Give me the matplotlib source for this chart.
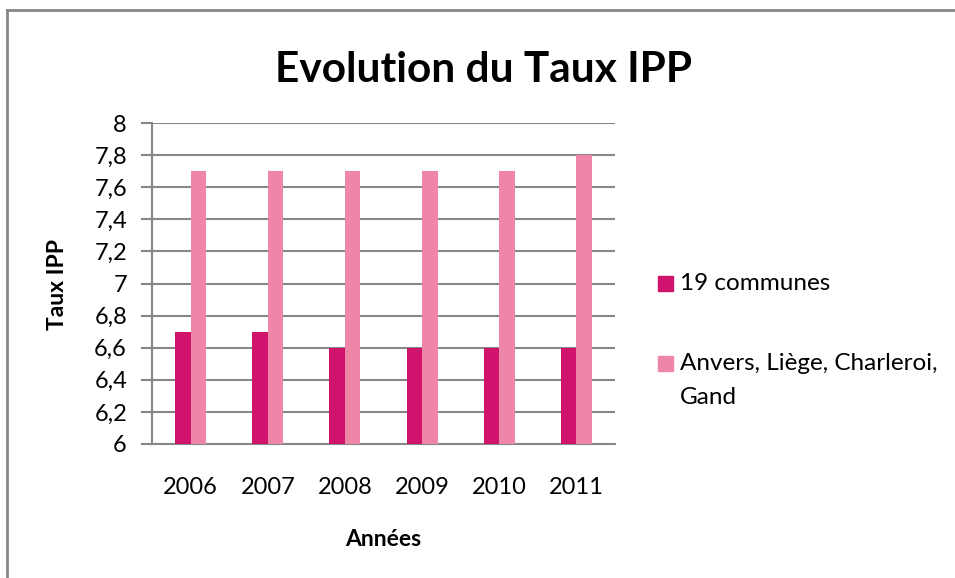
import matplotlib
matplotlib.use("Agg")
import matplotlib.pyplot as plt
import numpy as np
from matplotlib.patches import Rectangle
from matplotlib.lines import Line2D

plt.rcParams['font.family'] = ['Lato', 'DejaVu Sans']

annees = ['2006', '2007', '2008', '2009', '2010', '2011']
communes19 = [6.7, 6.7, 6.6, 6.6, 6.6, 6.6]
grandes_villes = [7.7, 7.7, 7.7, 7.7, 7.7, 7.8]
yticks = [6, 6.2, 6.4, 6.6, 6.8, 7, 7.2, 7.4, 7.6, 7.8, 8]
ytick_labels = ['6', '6,2', '6,4', '6,6', '6,8', '7', '7,2', '7,4', '7,6', '7,8', '8']
noms = ['19 communes', 'Anvers, Liège, Charleroi,\nGand']
couleurs = ['#D0146E', '#EF86A8']

W, H = 955, 578
fig = plt.figure(figsize=(W / 100, H / 100), dpi=100)
ax = fig.add_axes([152 / W, 1 - 444 / H, (615 - 152) / W, (444 - 123) / H])

x = np.arange(len(annees))
ax.bar(x - 0.1, communes19, width=0.2, color=couleurs[0], zorder=3)
ax.bar(x + 0.1, grandes_villes, width=0.2, color=couleurs[1], zorder=3)

ax.set_xlim(-0.5, len(annees) - 0.5)
ax.set_ylim(6, 8)
ax.set_yticks(yticks)
ax.set_yticklabels(ytick_labels)
ax.set_xticks(x)
ax.set_xticklabels(annees)

grid_col = '#878787'
ax.yaxis.grid(True, color=grid_col, linewidth=1.5, zorder=0)
for s in ['top', 'right']:
    ax.spines[s].set_visible(False)
for s in ['left', 'bottom']:
    ax.spines[s].set_color(grid_col)
    ax.spines[s].set_linewidth(1.5)
ax.tick_params(axis='y', length=8, width=1.5, color=grid_col, labelsize=17, pad=10)
ax.tick_params(axis='x', length=0, labelsize=17, pad=24)

# titles
fig.text(484 / W, 1 - 70 / H, 'Evolution du Taux IPP', ha='center', va='center',
         fontsize=30.5, fontweight='bold')
fig.text(383 / W, 1 - 539 / H, 'Années', ha='center', va='center',
         fontsize=16.5, fontweight='bold')
fig.text(57 / W, 1 - 284 / H, 'Taux IPP', ha='center', va='center',
         fontsize=16.5, fontweight='bold', rotation=90)

# legend (handle aligned with first line of label)
leg_y = [283, 363]
for nom, c, yy in zip(noms, couleurs, leg_y):
    fig.add_artist(Rectangle((658 / W, 1 - (yy + 7.5) / H), 15 / W, 15 / H,
                             transform=fig.transFigure, color=c))
    for k, ligne in enumerate(nom.split('\n')):
        fig.text(680 / W, 1 - (yy + 34 * k) / H, ligne, ha='left', va='center',
                 fontsize=17.5)

# chart border (cropped frame)
fig.add_artist(Line2D([7 / W, 7 / W], [0, 1 - 10 / H], transform=fig.transFigure,
                      color='#888888', linewidth=2))
fig.add_artist(Line2D([7 / W, 1], [1 - 10 / H, 1 - 10 / H], transform=fig.transFigure,
                      color='#888888', linewidth=2))

fig.savefig('out.png', dpi=100)
